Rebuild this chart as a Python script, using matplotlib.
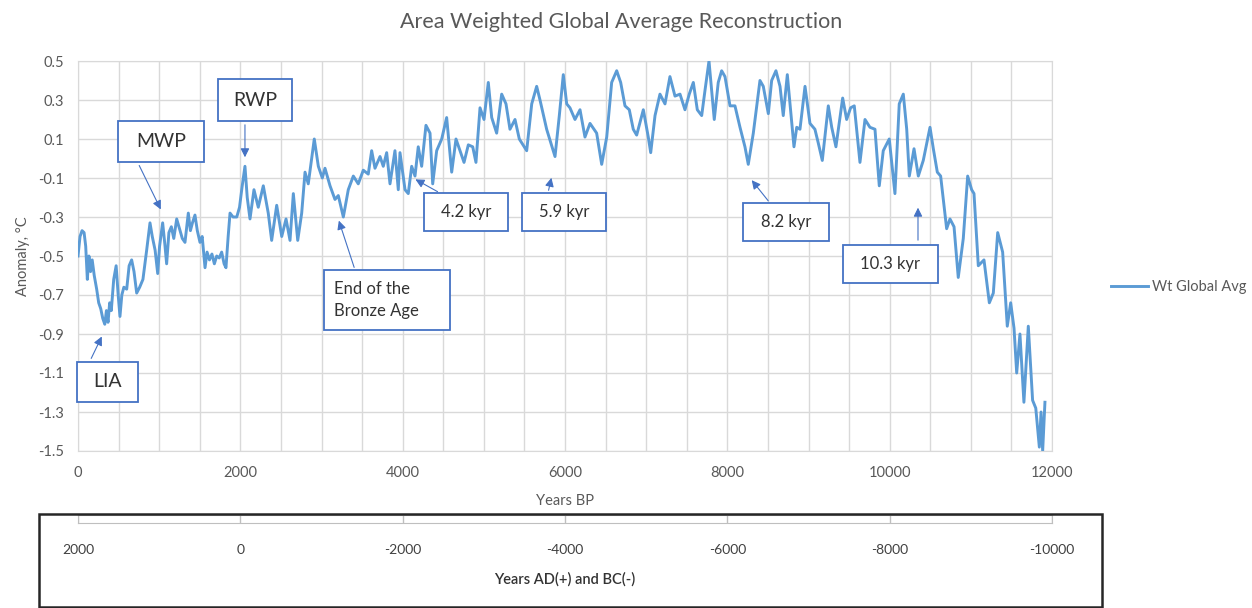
import matplotlib
matplotlib.use('Agg')
import matplotlib.pyplot as plt
from matplotlib.patches import Rectangle
import numpy as np

plt.rcParams['font.family'] = ['Lato', 'DejaVu Sans']
plt.rcParams['axes.unicode_minus'] = False

# Years BP and anomaly (deg C)
years = [
    0, 25, 50, 75, 95, 115, 135, 155, 175, 200, 230, 255, 280, 305, 330, 350, 370, 390, 410, 440,
    470, 495, 517, 540, 565, 600, 630, 661, 690, 723, 760, 800, 846, 887, 915, 950, 982, 1005, 1043, 1070,
    1092, 1120, 1150, 1180, 1216, 1250, 1285, 1318, 1359, 1385, 1410, 1441, 1470, 1503, 1530, 1565, 1590, 1620, 1650, 1680,
    1709, 1740, 1770, 1800, 1823, 1850, 1873, 1910, 1956, 1990, 2020, 2057, 2085, 2119, 2168, 2221, 2283, 2344, 2386, 2448,
    2510, 2563, 2612, 2653, 2707, 2756, 2797, 2837, 2911, 2961, 3010, 3043, 3105, 3166, 3207, 3269, 3330, 3392, 3453, 3515,
    3576, 3618, 3659, 3721, 3761, 3803, 3844, 3905, 3946, 3967, 4029, 4069, 4111, 4152, 4192, 4234, 4287, 4337, 4370, 4419,
    4481, 4542, 4604, 4657, 4706, 4756, 4809, 4863, 4903, 4953, 5002, 5055, 5097, 5158, 5220, 5273, 5322, 5384, 5437, 5528,
    5590, 5651, 5692, 5774, 5877, 5930, 5979, 6021, 6061, 6123, 6185, 6246, 6308, 6390, 6452, 6514, 6575, 6637, 6686, 6739,
    6792, 6841, 6883, 6965, 7026, 7056, 7109, 7170, 7232, 7293, 7355, 7417, 7478, 7531, 7581, 7630, 7684, 7725, 7774, 7807,
    7839, 7888, 7930, 7971, 8033, 8094, 8156, 8217, 8258, 8320, 8362, 8402, 8443, 8505, 8546, 8599, 8649, 8689, 8739, 8772,
    8821, 8855, 8895, 8957, 9018, 9079, 9120, 9170, 9244, 9286, 9338, 9421, 9470, 9519, 9564, 9634, 9696, 9757, 9819, 9872,
    9921, 9995, 10065, 10118, 10168, 10210, 10242, 10300, 10353, 10414, 10497, 10538, 10587, 10628, 10702, 10743, 10793, 10845, 10907, 10961,
    11010, 11039, 11092, 11162, 11228, 11277, 11331, 11392, 11449, 11491, 11532, 11565, 11605, 11654, 11708, 11761, 11800, 11844, 11865, 11885,
    11913,
]
anomaly = [
    -0.50, -0.40, -0.37, -0.38, -0.45, -0.62, -0.50, -0.58, -0.52, -0.60, -0.67, -0.74, -0.77, -0.82, -0.85, -0.78, -0.84, -0.74, -0.78, -0.62,
    -0.55, -0.70, -0.81, -0.70, -0.66, -0.67, -0.55, -0.52, -0.58, -0.69, -0.66, -0.62, -0.47, -0.33, -0.40, -0.47, -0.59, -0.45, -0.33, -0.44,
    -0.54, -0.38, -0.35, -0.41, -0.31, -0.36, -0.41, -0.43, -0.28, -0.37, -0.33, -0.29, -0.37, -0.43, -0.40, -0.56, -0.48, -0.52, -0.49, -0.54,
    -0.50, -0.51, -0.48, -0.54, -0.56, -0.40, -0.28, -0.30, -0.30, -0.25, -0.15, -0.04, -0.20, -0.31, -0.16, -0.25, -0.14, -0.28, -0.42, -0.24,
    -0.40, -0.31, -0.42, -0.18, -0.42, -0.28, -0.07, -0.13, 0.10, -0.04, -0.10, -0.05, -0.14, -0.21, -0.19, -0.30, -0.16, -0.09, -0.13, -0.06,
    -0.08, 0.04, -0.05, 0.01, -0.04, 0.03, -0.13, 0.04, -0.16, 0.03, -0.16, -0.18, -0.04, -0.09, 0.06, -0.04, 0.17, 0.13, -0.13, 0.04,
    0.10, 0.21, -0.07, 0.10, 0.04, -0.02, 0.07, 0.06, -0.02, 0.26, 0.20, 0.39, 0.21, 0.13, 0.33, 0.28, 0.15, 0.20, 0.10, 0.04,
    0.28, 0.37, 0.30, 0.15, 0.01, 0.22, 0.43, 0.28, 0.26, 0.20, 0.25, 0.11, 0.18, 0.13, -0.03, 0.11, 0.39, 0.45, 0.39, 0.27,
    0.25, 0.15, 0.12, 0.25, 0.11, 0.03, 0.22, 0.33, 0.28, 0.42, 0.32, 0.33, 0.25, 0.33, 0.39, 0.25, 0.22, 0.35, 0.50, 0.35,
    0.20, 0.39, 0.45, 0.42, 0.27, 0.27, 0.16, 0.06, -0.03, 0.13, 0.27, 0.40, 0.37, 0.23, 0.40, 0.45, 0.37, 0.22, 0.43, 0.28,
    0.06, 0.16, 0.15, 0.37, 0.18, 0.15, 0.08, -0.01, 0.27, 0.16, 0.06, 0.31, 0.20, 0.26, 0.27, -0.02, 0.20, 0.16, 0.15, -0.14,
    0.04, 0.10, -0.18, 0.28, 0.33, 0.15, -0.09, 0.05, -0.09, -0.01, 0.16, 0.05, -0.07, -0.09, -0.36, -0.31, -0.35, -0.61, -0.41, -0.09,
    -0.16, -0.18, -0.55, -0.52, -0.74, -0.69, -0.38, -0.48, -0.86, -0.74, -0.87, -1.10, -0.90, -1.25, -0.86, -1.24, -1.28, -1.48, -1.30, -1.50,
    -1.25,
]

ad_bc_ticks = [2000, 0, -2000, -4000, -6000, -8000, -10000]

# label, text position, box (x0, x1, y0, y1), arrow tail, arrow head, font size
notes = [
    ('LIA', (364, -1.146), (-10, 739, -1.249, -1.044), (148, -1.038), (308, -0.90), 14),
    ('MWP', (1023, 0.087), (493, 1552, -0.018, 0.192), (739, -0.023), (1035, -0.274), 14),
    ('RWP', (2181, 0.30), (1725, 2636, 0.192, 0.408), (2057, 0.187), (2057, -0.008), 14),
    ('4.2 kyr', (4780, -0.275), (4263, 5298, -0.372, -0.177), (4460, -0.177), (4127, -0.10), 12),
    ('5.9 kyr', (5987, -0.275), (5470, 6505, -0.372, -0.177), (5790, -0.177), (5840, -0.085), 12),
    ('8.2 kyr', (8723, -0.325), (8193, 9252, -0.423, -0.228), (8525, -0.228), (8279, -0.10), 12),
    ('10.3 kyr', (10010, -0.541), (9425, 10595, -0.638, -0.444), (10349, -0.433), (10349, -0.238), 12),
]

grey = '#595959'
grid_c = '#D9D9D9'
box_c = '#4472C4'

fig = plt.figure(figsize=(12.52, 6.08), dpi=100)
ax = fig.add_axes([78 / 1252, 1 - 451 / 608, 974 / 1252, 390 / 608])

ax.plot(years, anomaly, color='#5B9BD5', lw=2.1, zorder=3, label='Wt Global Avg')

ax.set_xlim(0, 12000)
ax.set_ylim(-1.5, 0.5)
ax.set_xticks(range(0, 12001, 2000))
ax.set_xticks(range(0, 12001, 500), minor=True)
ax.set_yticks(np.arange(-1.5, 0.51, 0.2))
ax.set_yticklabels(['%.1f' % v for v in np.arange(-1.5, 0.51, 0.2)])
ax.grid(True, which='both', color=grid_c, lw=1)
ax.set_axisbelow(True)
for s in ax.spines.values():
    s.set_color(grid_c)
ax.tick_params(which='both', length=0, colors=grey, labelsize=10.5)
ax.tick_params(axis='x', pad=11)
ax.tick_params(axis='y', pad=10)
ax.set_xlabel('Years BP', color=grey, fontsize=10.5, labelpad=10)
ax.set_ylabel('Anomaly, °C', color=grey, fontsize=10.5, labelpad=6)

fig.text(621 / 1252, 1 - 22 / 608, 'Area Weighted Global Average Reconstruction',
         ha='center', va='center', color=grey, fontsize=15.5)

for label, txt, box, tail, head, fs in notes:
    x0, x1, y0, y1 = box
    ax.add_patch(Rectangle((x0, y0), x1 - x0, y1 - y0, facecolor='white', edgecolor=box_c,
                           lw=1.3, zorder=4, clip_on=False))
    ax.text(txt[0], txt[1], label, ha='center', va='center', fontsize=fs, color='#333333', zorder=5)
    ax.annotate('', xy=head, xytext=tail,
                arrowprops=dict(arrowstyle='-|>', color=box_c, lw=0.8, mutation_scale=13),
                zorder=5, annotation_clip=False)

# End of the Bronze Age box (two lines, left aligned)
ax.add_patch(Rectangle((3031, -0.879), 4583 - 3031, 0.307, facecolor='white', edgecolor=box_c,
                       lw=1.3, zorder=4))
ax.text(3160, -0.726, 'End of the\nBronze Age', ha='left', va='center', fontsize=12,
        color='#333333', linespacing=1.5, zorder=5)
ax.annotate('', xy=(3203, -0.305), xytext=(3413, -0.572),
            arrowprops=dict(arrowstyle='-|>', color=box_c, lw=0.8, mutation_scale=13), zorder=5)

fig.legend(loc='center left', bbox_to_anchor=(1098 / 1252, 1 - 287 / 608), frameon=False,
           fontsize=10.5, labelcolor=grey, handlelength=2.5, handletextpad=0.3)

# lower box with calendar years
fig.patches.append(Rectangle((39 / 1252, 1 / 608), 1063 / 1252, 93 / 608,
                             transform=fig.transFigure, fill=False, edgecolor='#262626', lw=1.8))
ax2 = fig.add_axes([78 / 1252, 1 - 523 / 608, 974 / 1252, 8 / 608])
ax2.set_xlim(2000, -10000)
ax2.set_xticks(ad_bc_ticks)
ax2.set_yticks([])
ax2.grid(True, axis='x', color='#BFBFBF', lw=1)
for s in ax2.spines.values():
    s.set_color('#BFBFBF')
ax2.tick_params(length=0, pad=15, labelsize=10, colors='#404040')
ax2.set_xlabel('Years AD(+) and BC(-)', fontsize=10.5, color='#333333', labelpad=12,
               fontweight='semibold')

fig.savefig('out.png', dpi=100)
